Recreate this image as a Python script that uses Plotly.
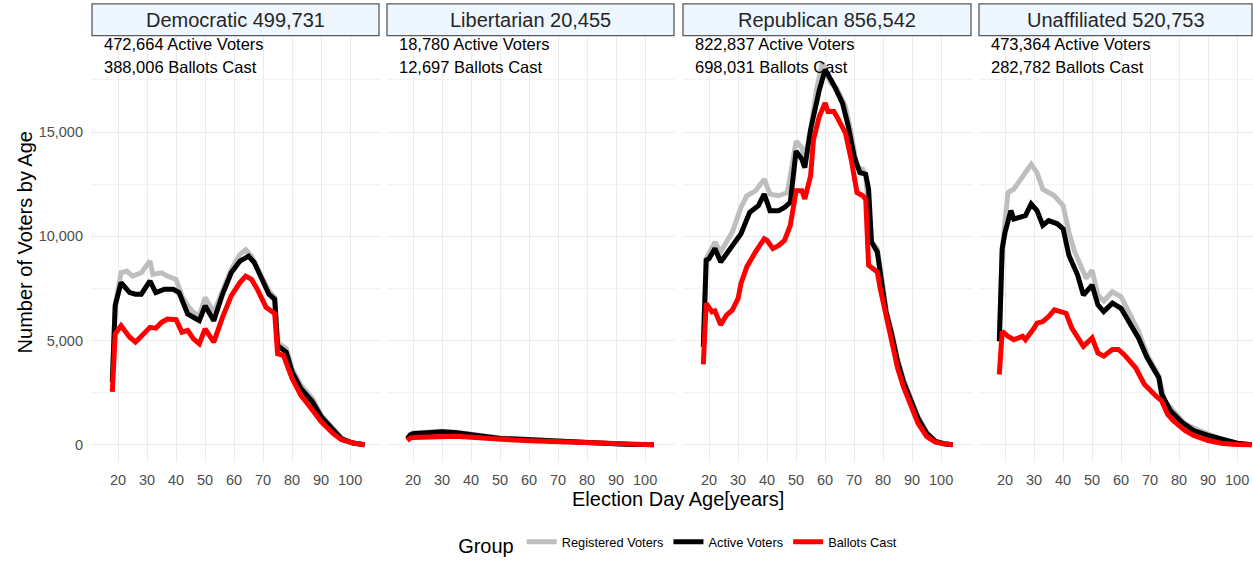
import plotly
from plotly.subplots import make_subplots

'''
voters by age, faceted by party
'''

W, H = 1253, 563

parties = ["Democratic", "Libertarian", "Republican", "Unaffiliated"]
registered_total = ["499,731", "20,455", "856,542", "520,753"]
active_total = ["472,664", "18,780", "822,837", "473,364"]
ballots_total = ["388,006", "12,697", "698,031", "282,782"]

group_names = ["Registered Voters", "Active Voters", "Ballots Cast"]
group_colors = ["#BEBEBE", "#000000", "#FF0000"]

x_ticks = [20, 30, 40, 50, 60, 70, 80, 90, 100]

# Democratic
dem_reg_age = [18, 19, 21, 23, 25, 28, 31, 32, 35, 37, 40, 42, 44, 46, 48, 50, 53, 56, 59, 62, 64, 66, 70, 72, 74, 75,
               78, 80, 83, 87, 90, 94, 97, 101, 105]
dem_reg = [3200, 6700, 8250, 8330, 8090, 8250, 8810, 8170, 8250, 8090, 7935, 7140, 6665, 6350, 6190, 7060, 6350, 7380,
           8410, 9125, 9360, 9045, 7935, 7380, 7060, 4920, 4600, 3650, 2860, 2220, 1430, 790, 320, 80, 0]
dem_act_age = [18, 19, 21, 24, 26, 28, 31, 33, 36, 39, 41, 43, 44, 47, 48, 50, 53, 56, 59, 62, 65, 67, 70, 72, 74, 75,
               78, 80, 83, 87, 90, 94, 97, 101, 105]
dem_act = [3000, 6670, 7780, 7300, 7220, 7220, 7855, 7300, 7460, 7460, 7300, 6590, 6270, 6030, 5950, 6665, 5950, 7220,
           8250, 8810, 9045, 8730, 7780, 7220, 6980, 4760, 4440, 3490, 2700, 2060, 1350, 715, 285, 80, 0]
dem_bal_age = [18, 19, 21, 24, 26, 28, 31, 33, 35, 37, 40, 42, 44, 46, 48, 50, 53, 56, 59, 62, 64, 66, 68, 71, 73, 74,
               75, 77, 80, 83, 87, 90, 94, 97, 101, 105]
dem_bal = [2540, 5320, 5710, 5160, 4920, 5240, 5630, 5590, 5870, 6030, 6000, 5400, 5480, 5080, 4840, 5555, 4920, 6110,
           7140, 7780, 8090, 7935, 7460, 6590, 6350, 6300, 4365, 4285, 3175, 2380, 1665, 1110, 555, 240, 80, 0]

# Libertarian
lib_age = [18, 19, 20, 25, 30, 35, 40, 45, 50, 55, 60, 65, 70, 75, 80, 85, 90, 95, 100, 103]
lib_reg = [300, 500, 560, 620, 650, 600, 500, 400, 320, 290, 250, 210, 160, 120, 80, 45, 20, 10, 5, 0]
lib_act = [280, 470, 530, 590, 620, 570, 470, 380, 300, 270, 230, 195, 150, 110, 70, 40, 18, 8, 4, 0]
lib_bal = [200, 320, 350, 380, 420, 400, 360, 300, 240, 220, 190, 165, 130, 95, 60, 35, 15, 7, 3, 0]

# Republican
rep_reg_age = [18, 19, 22, 24, 28, 31, 33, 36, 39, 41, 44, 47, 48, 50, 52, 53, 55, 57, 59, 62, 64, 67, 69, 71, 73, 74,
               76, 78, 80, 81, 83, 85, 87, 90, 92, 95, 98, 101, 104]
rep_reg = [4900, 8930, 9720, 9250, 10200, 11390, 11945, 12180, 12740, 12025, 11945, 12100, 12900, 14560, 14250, 13690,
           15120, 17020, 18300, 17340, 17100, 16230, 14960, 13290, 13215, 12900, 9720, 9400, 7600, 6500, 5400, 4100,
           3150, 2150, 1350, 600, 180, 60, 0]
rep_act_age = [18, 19, 20, 22, 24, 28, 31, 34, 37, 39, 41, 44, 46, 48, 50, 52, 53, 55, 58, 60, 63, 66, 68, 70, 72, 74,
               75, 76, 78, 80, 81, 83, 85, 87, 90, 92, 95, 98, 101, 104]
rep_act = [4700, 8850, 8930, 9410, 8770, 9560, 10120, 11150, 11470, 12025, 11230, 11230, 11390, 11630, 14090, 13690,
           13290, 15120, 17020, 18000, 17260, 16390, 15280, 13850, 13055, 12980, 12260, 9720, 9250, 7300, 6380, 5270,
           3990, 3030, 2070, 1280, 560, 160, 50, 0]
rep_bal_age = [18, 19, 21, 22, 24, 26, 28, 30, 31, 33, 36, 39, 40, 42, 44, 46, 48, 50, 52, 53, 55, 56, 58, 60, 61, 63,
               64, 67, 69, 71, 73, 74, 75, 78, 79, 81, 83, 85, 87, 90, 92, 95, 98, 101, 104]
rep_bal = [3850, 6780, 6380, 6420, 5750, 6220, 6460, 7020, 7740, 8530, 9250, 9880, 9800, 9410, 9560, 9800, 10520,
           12180, 12180, 11790, 12900, 14640, 15750, 16390, 15990, 15990, 15750, 14960, 13690, 12100, 11945, 11790,
           8610, 8290, 7500, 6220, 5030, 3670, 2790, 1755, 1040, 400, 120, 40, 0]

# Unaffiliated
una_reg_age = [18, 19, 21, 23, 25, 27, 29, 31, 33, 35, 37, 40, 42, 44, 46, 48, 50, 52, 54, 57, 60, 62, 66, 69, 73, 75,
               79, 82, 87, 91, 95, 100, 105]
una_reg = [5120, 9400, 12100, 12260, 12660, 13055, 13450, 13055, 12260, 12100, 11945, 11470, 10200, 9250, 8610, 7980,
           8370, 7180, 6900, 7340, 7100, 6540, 5440, 4320, 3290, 2100, 1470, 1000, 680, 445, 250, 80, 0]
una_act_age = [18, 19, 20, 22, 23, 26, 27, 29, 31, 33, 35, 38, 40, 42, 45, 47, 50, 52, 54, 57, 60, 62, 66, 69, 73, 74,
               77, 81, 85, 90, 95, 100, 105]
una_act = [4960, 9400, 10200, 11230, 10830, 10910, 10990, 11550, 11230, 10520, 10755, 10600, 10360, 9090, 8140, 7180,
           7660, 6710, 6390, 6790, 6540, 6070, 5120, 4170, 3215, 2420, 1630, 1075, 680, 445, 230, 70, 0]
una_bal_age = [18, 19, 21, 23, 26, 27, 30, 31, 33, 35, 37, 39, 41, 43, 45, 47, 50, 52, 54, 57, 59, 61, 65, 68, 72, 74,
               76, 78, 82, 85, 90, 95, 100, 105]
una_bal = [3370, 5440, 5200, 5040, 5200, 5040, 5600, 5830, 5910, 6150, 6470, 6390, 6310, 5600, 5200, 4720, 5120, 4400,
           4250, 4570, 4570, 4330, 3690, 2900, 2340, 2100, 1470, 1150, 680, 445, 200, 60, 10, 0]

# panel edges in pixels
panel_left = [92, 387, 683, 979]
panel_right = [380, 675, 972, 1253]


def draw_facet_graph():
    series = [
        [(dem_reg_age, dem_reg), (dem_act_age, dem_act), (dem_bal_age, dem_bal)],
        [(lib_age, lib_reg), (lib_age, lib_act), (lib_age, lib_bal)],
        [(rep_reg_age, rep_reg), (rep_act_age, rep_act), (rep_bal_age, rep_bal)],
        [(una_reg_age, una_reg), (una_act_age, una_act), (una_bal_age, una_bal)],
    ]

    fig = make_subplots(rows=1, cols=4, shared_yaxes=True)

    for p in range(4):
        for g in range(3):
            ages, vals = series[p][g]
            fig.add_trace(plotly.graph_objs.Scatter(
                x=ages, y=vals, mode="lines",
                name=group_names[g],
                legendgroup=group_names[g],
                showlegend=(p == 0),
                line=dict(color=group_colors[g], width=5),
            ), row=1, col=p + 1)

    grid = "#EBEBEB"
    y_bottom = 1 - 467 / H
    y_top = 1 - 36 / H
    for p in range(4):
        left, right = panel_left[p], panel_right[p]
        span = (right - left) / 2.9
        fig.update_xaxes(
            domain=[left / W, right / W], range=[11, 11 + span],
            tickvals=x_ticks, showgrid=True, gridcolor=grid, gridwidth=1,
            zeroline=False, showline=False, ticks="",
            tickfont=dict(size=14.5, color="#4D4D4D"), ticklabelstandoff=7,
            row=1, col=p + 1)
        fig.update_yaxes(
            domain=[y_bottom, y_top], range=[-831, 19629],
            tickvals=[0, 5000, 10000, 15000], ticktext=["0", "5,000", "10,000", "15,000"],
            showgrid=True, gridcolor=grid, gridwidth=1,
            minor=dict(tickvals=[2500, 7500, 12500, 17500], showgrid=True, gridcolor="#F3F3F3", gridwidth=1),
            zeroline=False, showline=False, ticks="",
            tickfont=dict(size=14.5, color="#4D4D4D"), ticklabelstandoff=8,
            row=1, col=p + 1)

        # strip header
        fig.add_shape(type="rect", xref="paper", yref="paper",
                      x0=left / W, x1=(right - 1) / W, y0=1 - 36 / H, y1=1 - 4 / H,
                      fillcolor="#EEF6FF", line=dict(color="#5A5A5A", width=1.3), layer="above")
        fig.add_annotation(xref="paper", yref="paper", x=(left + right - 1) / 2 / W, y=1 - 20 / H,
                           text=parties[p] + " " + registered_total[p], showarrow=False,
                           font=dict(size=20, color="#262626"), xanchor="center", yanchor="middle")
        fig.add_annotation(xref="paper", yref="paper", x=(left + 10) / W, y=1 - 44 / H,
                           text=active_total[p] + " Active Voters", showarrow=False,
                           font=dict(size=16.5, color="#000000"), xanchor="left", yanchor="middle")
        fig.add_annotation(xref="paper", yref="paper", x=(left + 10) / W, y=1 - 68 / H,
                           text=ballots_total[p] + " Ballots Cast", showarrow=False,
                           font=dict(size=16.5, color="#000000"), xanchor="left", yanchor="middle")

    # axis titles
    fig.add_annotation(xref="paper", yref="paper", x=678 / W, y=1 - 504 / H,
                       text="Election Day Age[years]", showarrow=False,
                       font=dict(size=20, color="#000000"), xanchor="center", yanchor="middle")
    fig.add_annotation(xref="paper", yref="paper", x=25 / W, y=1 - 245 / H,
                       text="Number of Voters by Age", showarrow=False, textangle=-90,
                       font=dict(size=20, color="#000000"), xanchor="center", yanchor="middle")

    fig.update_layout(
        width=W, height=H,
        margin=dict(l=0, r=0, t=0, b=0),
        paper_bgcolor="white", plot_bgcolor="white",
        font=dict(family="Liberation Sans, Arial, sans-serif"),
        legend=dict(orientation="h", x=0.542, xanchor="center", y=1 - 551 / H, yanchor="middle",
                    title=dict(text="Group", font=dict(size=20, color="#000000"), side="left"),
                    font=dict(size=12.8, color="#000000"), itemwidth=30),
    )

    # page body has a default margin, drop it so the figure sits at 0,0
    fig.write_html("out.html", config={"displayModeBar": False},
                   post_script="document.body.style.margin='0';")


if __name__ == "__main__":
    draw_facet_graph()
